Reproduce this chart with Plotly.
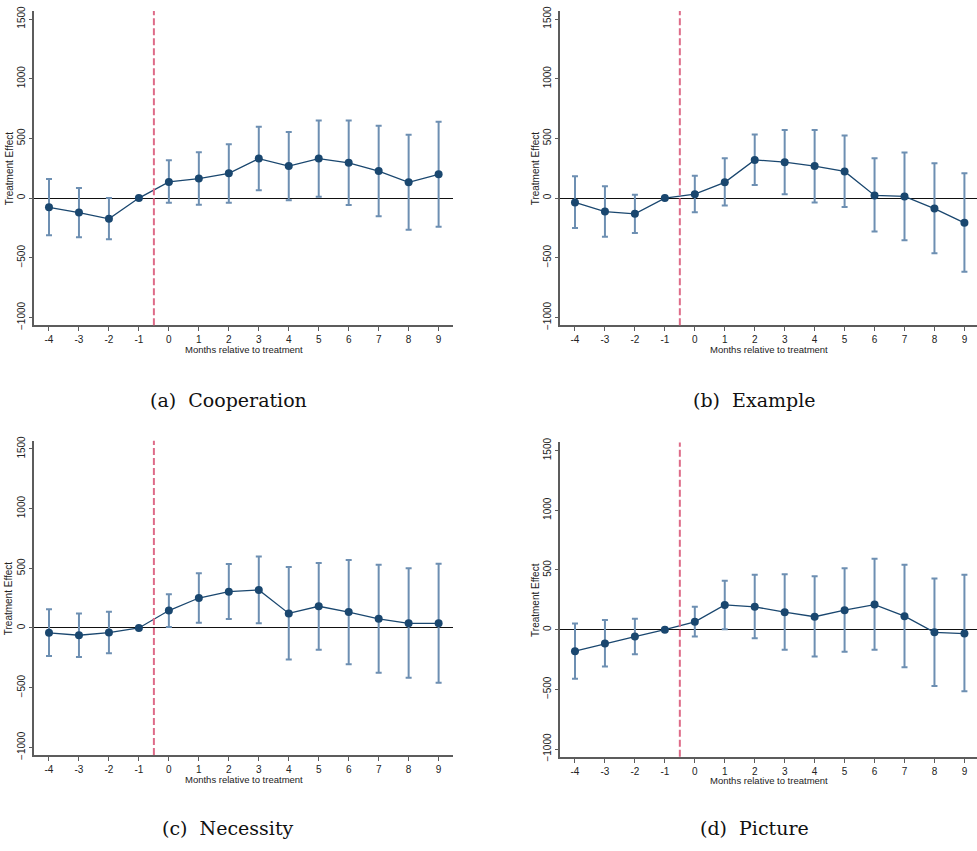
import numpy as np
import plotly.graph_objects as go

# Event-time months relative to treatment
months = [-4, -3, -2, -1, 0, 1, 2, 3, 4, 5, 6, 7, 8, 9]

# (a) Cooperation
coop_est = [-77, -121, -174, 0, 135, 163, 207, 331, 268, 331, 295, 226, 132, 199]
coop_hi = [160, 85, 0, 0, 317, 383, 452, 598, 554, 651, 651, 607, 530, 640]
coop_lo = [-312, -328, -345, 0, -39, -55, -39, 66, -19, 11, -58, -152, -265, -240]

# (b) Example
exam_est = [-36, -113, -132, 0, 33, 132, 320, 301, 268, 223, 22, 14, -88, -207]
exam_hi = [182, 99, 28, 0, 188, 334, 532, 571, 571, 524, 334, 381, 292, 207]
exam_lo = [-251, -325, -292, 0, -119, -63, 110, 33, -36, -74, -281, -353, -463, -618]

# (c) Necessity
nece_est = [-41, -61, -39, 0, 146, 251, 304, 318, 122, 182, 133, 77, 39, 39]
nece_hi = [157, 121, 135, 0, 282, 458, 536, 599, 511, 544, 569, 530, 500, 539]
nece_lo = [-234, -243, -212, 0, 8, 44, 75, 39, -265, -182, -304, -376, -417, -459]

# (d) Picture
pict_est = [-180, -116, -58, 0, 66, 207, 191, 146, 108, 163, 210, 113, -22, -33]
pict_hi = [52, 80, 91, 0, 191, 409, 459, 464, 448, 514, 594, 544, 428, 459]
pict_lo = [-412, -309, -207, 0, -58, 3, -72, -169, -224, -185, -169, -315, -472, -517]

captions = ["(a)  Cooperation", "(b)  Example", "(c)  Necessity", "(d)  Picture"]
y_ticks = [-1000, -500, 0, 500, 1000, 1500]
treatment_cut = -0.5

W, H = 977, 851
NAVY = "#1a476f"
CI_COL = "#6d8fb2"
RED = "#de6b88"
AXIS_COL = "#5c5c5c"
SANS = "Liberation Sans, Arial, sans-serif"

panels = [
    (coop_est, coop_hi, coop_lo),
    (exam_est, exam_hi, exam_lo),
    (nece_est, nece_hi, nece_lo),
    (pict_est, pict_hi, pict_lo),
]

# plot-area boxes in pixels: left, right, top, bottom
boxes = [
    (34.3, 453.0, 6.0, 324.0),
    (560.3, 977.0, 6.0, 324.0),
    (34.3, 453.0, 441.0, 759.0),
    (560.3, 977.0, 442.7, 760.7),
]
x_ranges = [[-4.49, 9.48], [-4.49, 9.42], [-4.49, 9.48], [-4.49, 9.42]]
y_range = [-1065, 1568]

fig = go.Figure()
annotations = []
shapes = []

for i, ((est, hi, lo), (l, r, t, b)) in enumerate(zip(panels, boxes)):
    k = "" if i == 0 else str(i + 1)
    xa, ya = "x" + k, "y" + k
    est_a = np.array(est, dtype=float)
    up = np.array(hi, dtype=float) - est_a
    dn = est_a - np.array(lo, dtype=float)

    # confidence-interval caps
    fig.add_trace(go.Scatter(
        x=months, y=est, mode="markers", xaxis=xa, yaxis=ya,
        marker=dict(size=1, color="rgba(0,0,0,0)"),
        error_y=dict(type="data", symmetric=False, array=up, arrayminus=dn,
                     color=CI_COL, thickness=2, width=3),
        showlegend=False, hoverinfo="skip",
    ))
    # point estimates
    fig.add_trace(go.Scatter(
        x=months, y=est, mode="lines+markers", xaxis=xa, yaxis=ya,
        line=dict(color=NAVY, width=1.3),
        marker=dict(size=8, color=NAVY),
        showlegend=False,
    ))

    axis_common = dict(showgrid=False, showline=True, linecolor=AXIS_COL,
                       linewidth=1.5, ticks="outside", ticklen=4,
                       tickwidth=1.2, tickcolor=AXIS_COL,
                       tickfont=dict(family=SANS, size=10, color="#222"))
    fig.update_layout({
        ("xaxis" + k): dict(domain=[l / W, r / W], anchor=ya, range=x_ranges[i],
                            tickmode="array", tickvals=months,
                            ticktext=[str(m) for m in months],
                            zeroline=False, **axis_common),
        ("yaxis" + k): dict(domain=[1 - b / H, 1 - t / H], anchor=xa,
                            range=y_range, tickmode="array", tickvals=y_ticks,
                            tickangle=-90, zeroline=True, zerolinecolor="#111",
                            zerolinewidth=1.3, **axis_common),
    })

    # treatment onset marker
    shapes.append(dict(type="line", xref=xa, yref=ya + " domain",
                       x0=treatment_cut, x1=treatment_cut, y0=0, y1=1,
                       line=dict(color=RED, width=2, dash="7px,3px"), layer="above"))

    cx = (l + r) / 2 / W
    annotations.append(dict(text="Months relative to treatment", xref="paper", yref="paper",
                            x=cx, y=1 - (b + 24.5) / H, showarrow=False,
                            font=dict(family=SANS, size=9.5, color="#222"),
                            xanchor="center", yanchor="middle"))
    annotations.append(dict(text="Treatment Effect", xref="paper", yref="paper",
                            x=(l - 25) / W, y=1 - (t + b) / 2 / H, textangle=-90,
                            showarrow=False, font=dict(family=SANS, size=10, color="#222"),
                            xanchor="center", yanchor="middle"))
    cap_x = 228 if i % 2 == 0 else 754
    cap_y = 400 if i < 2 else 833
    annotations.append(dict(text=captions[i], xref="paper", yref="paper",
                            x=cap_x / W, y=1 - cap_y / H, showarrow=False,
                            font=dict(family="DejaVu Serif, serif", size=19, color="#111"),
                            xanchor="center", yanchor="middle"))

fig.update_layout(width=W, height=H, margin=dict(l=0, r=0, t=0, b=0),
                  paper_bgcolor="white", plot_bgcolor="white",
                  annotations=annotations, shapes=shapes)

fig.write_html("out.html")
